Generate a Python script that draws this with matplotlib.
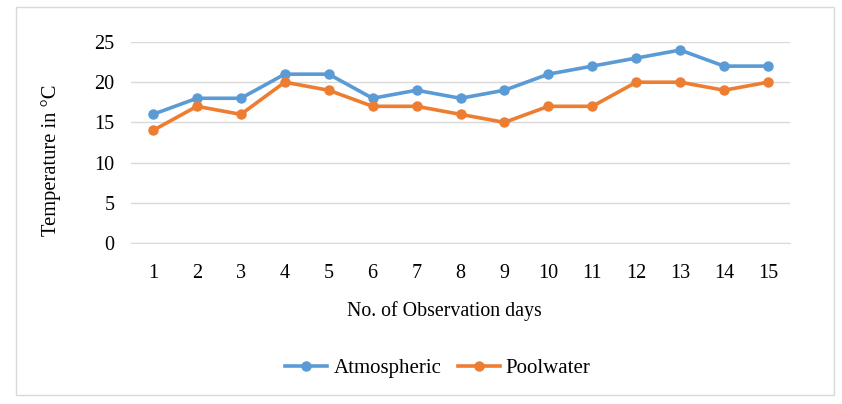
import matplotlib.pyplot as plt
from matplotlib.patches import Rectangle

days = list(range(1, 16))
atmospheric = [16, 18, 18, 21, 21, 18, 19, 18, 19, 21, 22, 23, 24, 22, 22]
poolwater = [14, 17, 16, 20, 19, 17, 17, 16, 15, 17, 17, 20, 20, 19, 20]
y_ticks = [0, 5, 10, 15, 20, 25]

plt.rcParams['font.family'] = ['Liberation Serif', 'DejaVu Serif']

fig = plt.figure(figsize=(8.42, 4.04), dpi=100)
# outer chart border
fig.patches.append(Rectangle((16 / 842, 1 - 395 / 404), 818 / 842, 388 / 404,
                             transform=fig.transFigure, fill=False,
                             edgecolor='#d9d9d9', linewidth=1))

ax = fig.add_axes([131 / 842, 1 - 243 / 404, 659 / 842, 201 / 404])
ax.plot(days, atmospheric, '-o', color='#5B9BD5', lw=2.6, ms=6.5, label='Atmospheric')
ax.plot(days, poolwater, '-o', color='#ED7D31', lw=2.6, ms=6.5, label='Poolwater')

ax.set_xlim(0.5, 15.5)
ax.set_ylim(0, 25)
ax.set_xticks(days)
ax.set_yticks(y_ticks)
ax.tick_params(length=0, labelsize=14.5, colors='black')
ax.tick_params(axis='x', pad=15)
ax.tick_params(axis='y', pad=12)
ax.grid(axis='y', color='#d9d9d9', lw=1)
ax.set_axisbelow(True)
for s in ['top', 'right', 'left']:
    ax.spines[s].set_visible(False)
ax.spines['bottom'].set_color('#d9d9d9')

ax.set_xlabel('No. of Observation days', fontsize=14.3, va='center')
ax.xaxis.set_label_coords(0.475, -0.338)
ax.set_ylabel('Temperature in °C', fontsize=14.8, va='center')
ax.yaxis.set_label_coords(-0.121, 0.413)

ax.legend(loc='center', bbox_to_anchor=(0.466, -0.622), ncol=2, frameon=False,
          fontsize=15, handlelength=2.0, handletextpad=0.3, columnspacing=0.8)

fig.savefig('out.png', dpi=100)
